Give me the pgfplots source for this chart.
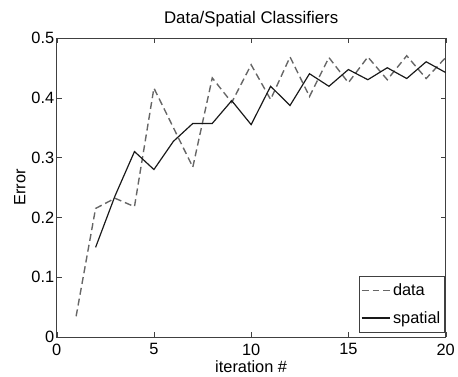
\documentclass[border=0pt]{standalone}
\usepackage{fontspec}
\setmainfont{Liberation Sans}
\usepackage{pgfplots}
\pgfplotsset{compat=1.18}
\begin{document}
\begin{tikzpicture}
\begin{axis}[
  scale only axis,
  width=391bp, height=301bp,
  xmin=0, xmax=20, ymin=0, ymax=0.5,
  xtick={0,5,10,15,20},
  ytick={0,0.1,0.2,0.3,0.4,0.5},
  yticklabel style={/pgf/number format/fixed,/pgf/number format/precision=1, xshift=1bp},
  /pgf/number format/assume math mode=true,
  tick align=inside,
  major tick length=5bp,
  axis line style={black!75},
  tick style={black!75},
  ticklabel style={font=\fontsize{16.5}{18}\selectfont},
  xticklabel style={yshift=-3bp},
  title={Data/Spatial Classifiers},
  title style={font=\fontsize{17}{20}\selectfont, yshift=1bp},
  xlabel={iteration \#},
  ylabel={Error},
  label style={font=\fontsize{16.5}{19}\selectfont},
  xlabel style={yshift=1bp},
  ylabel style={yshift=-1bp},
  legend style={font=\fontsize{16.5}{19}\selectfont, draw=black!75, inner xsep=2pt, inner ysep=6pt, row sep=10pt, at={(0.997,0.015)}, anchor=south east},
  legend cell align=left,
  legend image post style={xscale=1.7},
]
\addplot[color=black!60, line width=1.4pt, dash pattern=on 7bp off 4bp] coordinates {
(1,0.035) (2,0.215) (3,0.232) (4,0.218) (5,0.416) (6,0.350) (7,0.284)
(8,0.433) (9,0.392) (10,0.455) (11,0.397) (12,0.468) (13,0.402) (14,0.467)
(15,0.425) (16,0.468) (17,0.430) (18,0.470) (19,0.432) (20,0.467)};
\addlegendentry{data}
\addplot[color=black!90, line width=1.2pt] coordinates {
(2,0.150) (3,0.236) (4,0.310) (5,0.280) (6,0.327) (7,0.357) (8,0.357)
(9,0.395) (10,0.355) (11,0.419) (12,0.387) (13,0.440) (14,0.419) (15,0.447)
(16,0.430) (17,0.450) (18,0.432) (19,0.460) (20,0.442)};
\addlegendentry{spatial}
\end{axis}
\path (current axis.south west) ++(-57bp,-40bp) rectangle ++(458bp,379bp);
\end{tikzpicture}
\end{document}
